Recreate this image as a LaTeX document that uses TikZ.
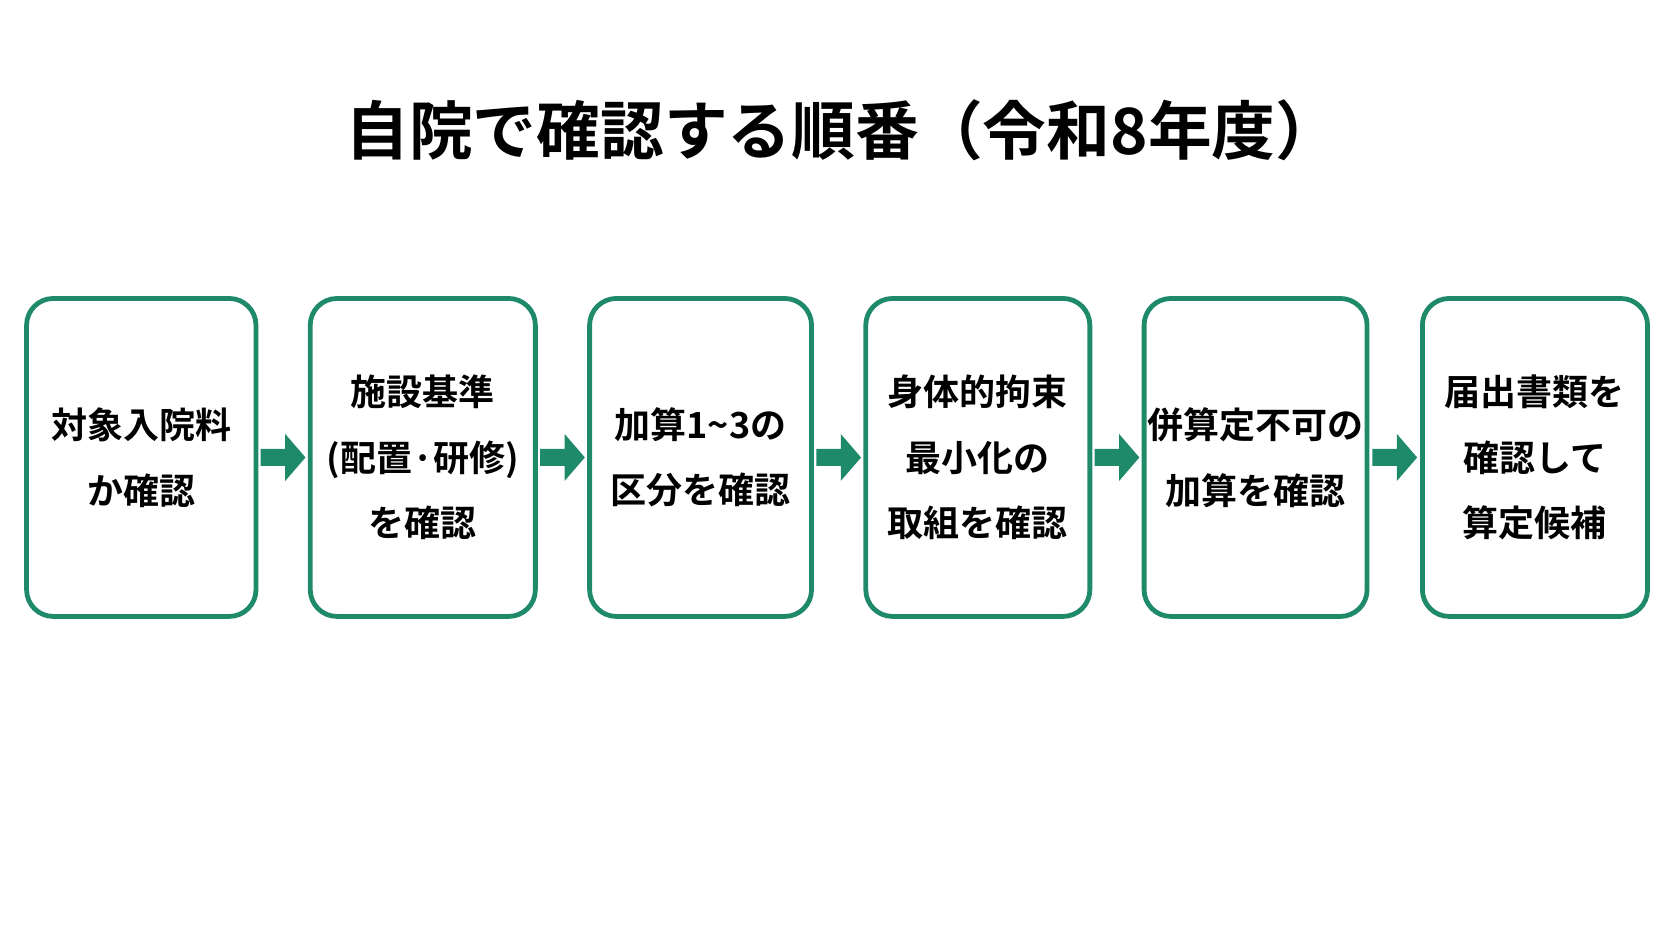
\documentclass[tikz,border=0pt]{standalone}
\usepackage{fontspec}
\setmainfont{Noto Sans CJK JP}[BoldFont={* Bold}]
\definecolor{gr}{HTML}{1E8A6A}
\begin{document}
\begin{tikzpicture}[x=0.01cm,y=-0.01cm,
 box/.style={draw=gr,line width=0.45mm,rounded corners=0.25cm,minimum height=2.98cm,align=center,font=\bfseries\fontsize{9.6pt}{17.5pt}\selectfont,inner sep=0pt},
 arr/.style={fill=gr,draw=none}]
\useasboundingbox (0,0) rectangle (1568,882.6);
\node[font=\bfseries\fontsize{17pt}{20pt}\selectfont] (t) at (790,122) {自院で確認する順番（令和8年度）};
\node[box,minimum width=2.15cm] (b1) at (132.5,429) {対象入院料\\か確認};
\node[box,minimum width=2.11cm] (b2) at (396.5,429) {施設基準\\(配置·研修)\\を確認};
\node[box,minimum width=2.08cm] (b3) at (657,429) {加算1\textasciitilde3の\\区分を確認};
\node[box,minimum width=2.10cm] (b4) at (917,429) {身体的拘束\\最小化の\\取組を確認};
\node[box,minimum width=2.09cm] (b5) at (1177.5,429) {併算定不可の\\加算を確認};
\node[box,minimum width=2.11cm] (b6) at (1439.5,429) {届出書類を\\確認して\\算定候補};
\foreach \a/\b in {b1/b2,b2/b3,b3/b4,b4/b5,b5/b6}{
 \path (\a.east) -- (\b.west) coordinate[pos=0.5] (m);
 \fill[arr] ([shift={(-21,-8)}]m) -- ([shift={(2,-8)}]m) -- ([shift={(2,-22)}]m) -- ([shift={(21,0)}]m) -- ([shift={(2,22)}]m) -- ([shift={(2,8)}]m) -- ([shift={(-21,8)}]m) -- cycle;
}
\end{tikzpicture}
\end{document}
